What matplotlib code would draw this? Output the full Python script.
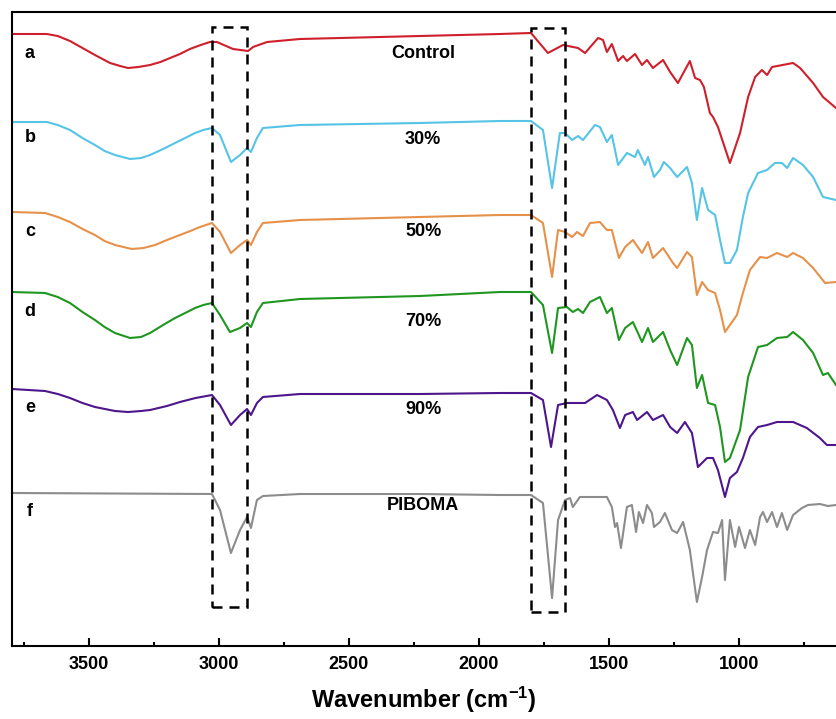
import matplotlib
matplotlib.use("Agg")
import matplotlib.pyplot as plt
from matplotlib.patches import Rectangle
from matplotlib.ticker import MultipleLocator

plt.rcParams['font.family'] = ['Liberation Sans', 'DejaVu Sans']
plt.rcParams['mathtext.fontset'] = 'custom'
plt.rcParams['mathtext.rm'] = 'Liberation Sans:bold'
plt.rcParams['mathtext.bf'] = 'Liberation Sans:bold'
plt.rcParams['mathtext.it'] = 'Liberation Sans:bold'

# ---------------- data (wavenumber cm-1, offset transmittance a.u.) ----------------
wn_a = [3796, 3662, 3620, 3573, 3525, 3477, 3419, 3380, 3350, 3310, 3265, 3225, 3188, 3150,
        3112, 3070, 3035, 3008, 2946, 2888, 2869,
        2815, 2688, 2227, 1919, 1800, 1735, 1677, 1619, 1592, 1542, 1523, 1508, 1489, 1465,
        1446, 1431, 1400, 1373, 1354, 1331, 1292, 1265, 1235, 1189, 1169, 1150, 1135, 1112,
        1100, 1081, 1035, 996, 965, 938, 912, 892, 873, 792, 765, 715, 677, 627]
t_a = [611, 611, 609, 604, 597, 590, 582, 579, 577, 578, 580, 583, 587, 591,
       596, 600, 603, 603, 596, 594, 598,
       603, 606, 609, 611, 612, 592, 600, 597, 592, 607, 605, 593, 601, 584,
       589, 584, 591, 580, 585, 577, 585, 573, 562, 584, 567, 565, 558, 532,
       528, 518, 482, 512, 548, 568, 575, 570, 578, 582, 577, 562, 548, 537]

wn_b = [3796, 3662, 3620, 3573, 3525, 3477, 3440, 3400, 3342, 3300, 3265, 3215, 3169, 3130,
        3092, 3060, 3027, 2996, 2954, 2919, 2892,
        2877, 2854, 2831, 2688, 2227, 1919, 1800, 1754, 1719, 1689, 1669, 1642, 1619, 1600,
        1554, 1535, 1508, 1489, 1465, 1431, 1400, 1389, 1362, 1350, 1327, 1304, 1289, 1265,
        1238, 1200, 1181, 1162, 1142, 1119, 1092, 1073, 1054, 1035, 1008, 985, 965, 927,
        892, 862, 835, 815, 792, 754, 715, 677, 627]
t_b = [523, 523, 520, 515, 507, 500, 494, 490, 486, 487, 490, 496, 502, 507,
       512, 515, 517, 510, 483, 490, 497,
       493, 507, 517, 520, 522, 524, 524, 515, 457, 512, 512, 505, 509, 505,
       520, 518, 503, 510, 480, 492, 488, 495, 480, 488, 468, 475, 483, 477,
       468, 478, 462, 425, 457, 435, 430, 405, 382, 382, 395, 428, 452, 472,
       475, 482, 482, 477, 487, 480, 468, 448, 445]

wn_c = [3796, 3669, 3620, 3573, 3525, 3477, 3440, 3400, 3335, 3290, 3246, 3200, 3150, 3110,
        3073, 3027, 2996, 2954, 2919, 2892,
        2877, 2854, 2831, 2688, 2227, 1919, 1800, 1754, 1719, 1696, 1669, 1642, 1623, 1600,
        1573, 1535, 1508, 1489, 1462, 1438, 1408, 1373, 1350, 1331, 1292, 1254, 1238, 1200,
        1181, 1162, 1142, 1119, 1092, 1073, 1054, 1035, 1008, 985, 958, 919, 892, 854,
        815, 792, 754, 715, 669, 627]
t_c = [433, 432, 428, 423, 416, 410, 404, 400, 396, 397, 400, 405, 410, 414,
       418, 422, 413, 392, 400, 405,
       400, 413, 422, 425, 428, 430, 430, 422, 368, 415, 413, 408, 413, 409,
       422, 423, 415, 415, 387, 398, 405, 392, 403, 387, 397, 382, 377, 393,
       388, 350, 363, 355, 352, 335, 313, 320, 330, 352, 375, 388, 387, 392,
       388, 392, 387, 377, 362, 363]

wn_d = [3796, 3669, 3620, 3573, 3525, 3477, 3440, 3400, 3342, 3300, 3265, 3215, 3169, 3130,
        3092, 3060, 3027, 2996, 2958, 2919, 2892,
        2877, 2854, 2831, 2688, 2227, 1919, 1800, 1754, 1719, 1696, 1662, 1639, 1619, 1600,
        1573, 1535, 1508, 1489, 1462, 1438, 1408, 1373, 1350, 1331, 1292, 1265, 1238, 1200,
        1181, 1162, 1142, 1119, 1092, 1073, 1054, 1035, 996, 965, 927, 892, 854, 815,
        792, 754, 715, 677, 658, 627]
t_d = [353, 352, 348, 342, 333, 325, 318, 312, 307, 308, 312, 320, 327, 332,
       337, 340, 342, 330, 313, 317, 322,
       318, 333, 342, 346, 349, 353, 353, 340, 292, 337, 338, 333, 336, 332,
       343, 348, 332, 337, 305, 317, 323, 303, 317, 303, 313, 295, 280, 307,
       300, 257, 270, 242, 240, 218, 183, 187, 215, 268, 298, 300, 307, 308,
       313, 305, 292, 270, 272, 260]

wn_e = [3796, 3669, 3620, 3573, 3525, 3477, 3400, 3350, 3300, 3265, 3200, 3150, 3090, 3027,
        2996, 2954, 2919, 2892, 2877,
        2854, 2831, 2688, 2227, 1919, 1800, 1754, 1723, 1696, 1662, 1619, 1592, 1546, 1508,
        1485, 1458, 1438, 1408, 1392, 1354, 1331, 1292, 1265, 1238, 1208, 1181, 1158, 1123,
        1100, 1081, 1054, 1035, 1008, 985, 958, 927, 892, 854, 792, 739, 689, 662, 627]
t_e = [256, 254, 251, 247, 242, 238, 234, 233, 234, 235, 239, 243, 247, 250,
       240, 220, 230, 236, 230,
       242, 248, 251, 251, 252, 252, 245, 198, 240, 242, 242, 242, 250, 245,
       235, 217, 230, 233, 225, 233, 225, 230, 218, 212, 223, 212, 178, 187,
       187, 175, 148, 167, 173, 187, 208, 218, 220, 223, 223, 217, 207, 200, 200]

wn_f = [3796, 3027, 2996, 2954, 2919, 2892, 2877, 2854, 2831, 2688, 2227, 1919, 1800, 1754,
        1719, 1696, 1669, 1650, 1639, 1612, 1508, 1489, 1477, 1469, 1454, 1431, 1412, 1396,
        1385, 1369, 1354, 1335, 1327, 1304, 1285, 1258, 1238, 1215, 1189, 1162, 1142, 1123,
        1100, 1081, 1065, 1054, 1035, 1015, 1000, 977, 958, 938, 919, 908, 892, 873,
        854, 835, 815, 792, 758, 735, 689, 658, 627]
t_f = [152, 151, 135, 92, 115, 128, 117, 145, 149, 151, 151, 150, 150, 142,
       47, 125, 145, 147, 138, 148, 148, 138, 118, 122, 97, 138, 140, 113,
       133, 122, 140, 132, 118, 123, 132, 115, 112, 123, 95, 43, 68, 95,
       113, 112, 125, 65, 125, 98, 118, 97, 115, 100, 128, 133, 123, 133,
       118, 132, 115, 130, 137, 140, 141, 139, 140]

letters = ['a', 'b', 'c', 'd', 'e', 'f']
samples = ['Control', '30%', '50%', '70%', '90%', 'PIBOMA']
letter_y = [592, 507, 414, 333, 237, 133]
sample_y = [591, 505, 413, 323, 235, 140]
colors = ['#CF1F2B', '#55C4E6', '#E6914A', '#1F961F', '#4E168C', '#8C8C8C']

# dashed highlight boxes (wavenumber range, intensity range)
box1_wn = [3027, 2892]
box1_t = [38, 618]
box2_wn = [1800, 1669]
box2_t = [33, 617]

x_ticks = [3500, 3000, 2500, 2000, 1500, 1000]

# ---------------- figure ----------------
fig = plt.figure(figsize=(8.36, 7.19), dpi=100)
ax = fig.add_axes([12 / 836, 1 - 646 / 719, 1 - 12 / 836, (646 - 12) / 719])

series = [(wn_a, t_a), (wn_b, t_b), (wn_c, t_c), (wn_d, t_d), (wn_e, t_e), (wn_f, t_f)]
for (w, t), col in zip(series, colors):
    ax.plot(w, t, color=col, lw=1.5, solid_joinstyle='round')

for lab, ly, s, sy in zip(letters, letter_y, samples, sample_y):
    ax.text(3727, ly, lab, fontsize=13, fontweight='bold', ha='center', va='center')
    ax.text(2215, sy, s, fontsize=13, fontweight='bold', ha='center', va='center')

for bw, bt in [(box1_wn, box1_t), (box2_wn, box2_t)]:
    ax.add_patch(Rectangle((bw[0], bt[0]), bw[1] - bw[0], bt[1] - bt[0], fill=False,
                           edgecolor='black', lw=1.8, linestyle=(0, (4, 2.8)), zorder=5))

ax.set_xlim(3796, 627)
ax.set_ylim(-1, 633)
ax.set_xticks(x_ticks)
ax.xaxis.set_minor_locator(MultipleLocator(250))
ax.set_yticks([])
ax.tick_params(axis='x', which='major', direction='in', length=6, width=1.5, pad=7,
               labelsize=13)
ax.tick_params(axis='x', which='minor', direction='in', length=3, width=1.5)
for lbl in ax.get_xticklabels():
    lbl.set_fontweight('bold')
for sp in ['left', 'top', 'bottom']:
    ax.spines[sp].set_linewidth(1.5)
ax.spines['right'].set_visible(False)

ax.set_xlabel(r'Wavenumber (cm$^{\mathbf{-1}}$)', fontsize=17, fontweight='bold', labelpad=9)

fig.savefig('out.png', dpi=100)
